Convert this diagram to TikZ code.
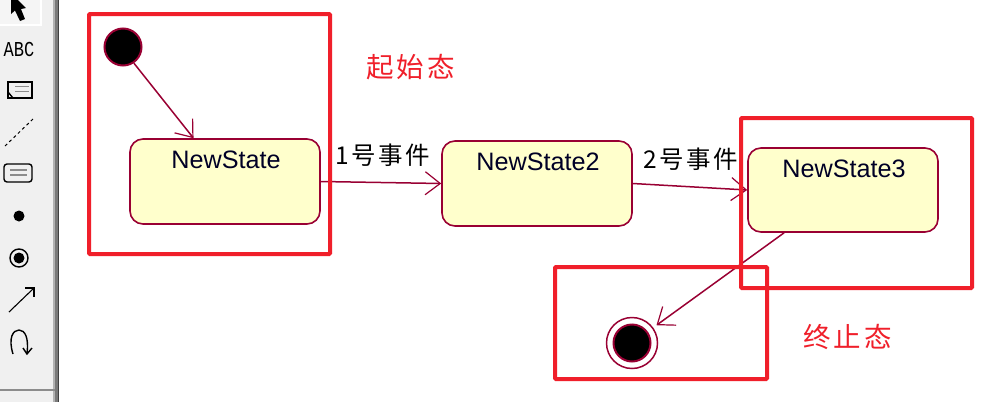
\documentclass[tikz,border=0pt]{standalone}
\usepackage{fontspec}
\setmainfont{Liberation Sans}
\newfontfamily\cjkev[LetterSpace=10]{Noto Sans CJK SC}
\newfontfamily\cjkred[LetterSpace=12]{Noto Sans CJK SC}
\newfontfamily\abcfont{Liberation Mono}
\usetikzlibrary{arrows.meta}
\definecolor{umlline}{HTML}{990033}
\definecolor{umlfill}{HTML}{FFFFCC}
\definecolor{markred}{HTML}{F01F2A}
\definecolor{toolbg}{HTML}{F0F0F0}
\tikzset{
  statebox/.style={draw=umlline,fill=umlfill,line width=1.6pt,rounded corners=13pt,minimum width=190pt,inner sep=0pt},
  statetext/.style={anchor=center,yshift=-22pt,xshift=1pt,font=\fontsize{25.2}{27}\selectfont,text=black!85!blue,inner sep=0pt},
  trans/.style={draw=umlline,line width=1.5pt,-{Straight Barb[length=15pt,width=23pt,line width=1.2pt]}},
  evtext/.style={font=\fontsize{24.5}{27}\selectfont\cjkev,inner sep=0pt,text=black},
  redtext/.style={font=\fontsize{27.5}{30}\selectfont\cjkred,inner sep=0pt,text=markred},
  markbox/.style={draw=markred,line width=4pt,rounded corners=1pt},
  icon/.style={draw=black,line width=1.4pt},
  icongrey/.style={draw=black!45,line width=1.4pt}
}
\begin{document}
\begin{tikzpicture}[x=1pt,y=-1pt]
\useasboundingbox (0,0) rectangle (1002,402);
\fill[white] (0,0) rectangle (1002,402);
% toolbar
\fill[toolbg] (0,0) rectangle (53,402);
\fill[black!30] (53,0) rectangle (55,402);
\fill[black!52] (55,0) rectangle (58,402);
\fill[black!75] (58,0) rectangle (59,402);
\fill[black!45] (0,388.5) rectangle (55,390.5);
\fill[white] (0,0) rectangle (42,26);
\fill[black!4] (0,0) rectangle (40,24);
% toolbar icons
\fill[black] (11,0) -- (11,14) -- (15,10.5) -- (20,21) -- (25,19) -- (21,9) -- (26,8) -- (18,0) -- cycle;
\node[inner sep=0pt,yscale=1.25,font=\fontsize{17}{17}\selectfont\abcfont] (abc) at (19,49) {ABC};
\draw[icon] (8,82) rectangle (32,98);
\draw[icon] (8,92) -- (13,98);
\draw[icongrey] (15,86.5) -- (29,86.5) (15,91.5) -- (29,91.5);
\draw[icon,line width=1pt,dash pattern=on 3pt off 3pt] (5,146) -- (33,119);
\draw[icon,rounded corners=3pt] (4,164) rectangle (32,182);
\draw[icongrey] (10,170) -- (27,170) (10,175) -- (27,175);
\fill[black] (19,216) circle (5.5);
\draw[icon] (19,258) circle (9);
\fill[black] (19,258) circle (5.5);
\draw[icon,line width=1.1pt] (9,312) -- (34,288);
\draw[icon,line width=1.1pt] (25,288) -- (34,288) -- (34,297);
\draw[icon] (13,354) .. controls (8,338) and (13,330) .. (19,330) .. controls (25,330) and (29,338) .. (27,353);
\draw[icon] (23,348) -- (27,354) -- (32,348);
% states
\node[statebox,minimum height=85pt,label={[statetext]north:NewState}] (s1) at (225,181.5) {};
\node[statebox,minimum height=85pt,label={[statetext]north:NewState2}] (s2) at (537,183.5) {};
\node[statebox,minimum height=84pt,label={[statetext]north:NewState3}] (s3) at (843,190) {};
\node[circle,fill=black,draw=umlline,line width=2pt,minimum size=37pt,inner sep=0pt] (init) at (123,47) {};
\node[circle,fill=black,draw=umlline,line width=2pt,minimum size=37pt,inner sep=0pt] (final) at (632,343) {};
\node[circle,draw=umlline,line width=1.5pt,minimum size=51pt,inner sep=0pt] (finalring) at (632,343) {};
% transitions
\draw[trans] (init.-56) -- (s1.126);
\draw[trans] (s1.east) -- (s2.west);
\draw[trans] (s2.east) -- (s3.west);
\draw[trans,shorten >=4pt] (s3.216) -- (finalring.36);
% event labels
\node[evtext,anchor=west] (e1) at (335,155) {1号事件};
\node[evtext,anchor=west] (e2) at (643,159) {2号事件};
% red marks
\node[markbox,minimum width=241pt,minimum height=240pt,inner sep=0pt] (m1) at (209.5,134) {};
\node[markbox,minimum width=231pt,minimum height=170pt,inner sep=0pt] (m2) at (856.5,203) {};
\node[markbox,minimum width=212pt,minimum height=112pt,inner sep=0pt] (m3) at (661,323) {};
\node[redtext,anchor=west] (r1) at (366,67) {起始态};
\node[redtext,anchor=west] (r2) at (803,337) {终止态};
\end{tikzpicture}
\end{document}
